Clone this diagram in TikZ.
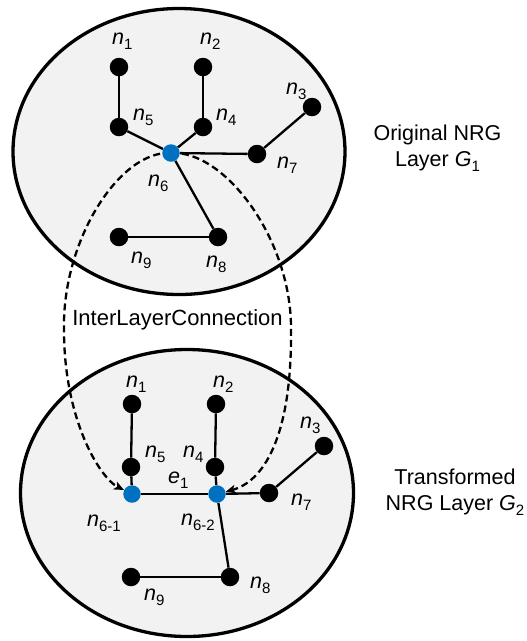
\documentclass[tikz,border=0pt]{standalone}
\usepackage{fontspec}
\setmainfont{Liberation Sans}
\usetikzlibrary{arrows.meta}
\pgfdeclarelayer{bg}\pgfdeclarelayer{mid}\pgfsetlayers{bg,mid,main}
\definecolor{myblue}{HTML}{0070C0}
\definecolor{layerfill}{HTML}{F2F2F2}
\newcommand\sbs[1]{\raisebox{-5.5pt}{\fontsize{15}{15}\selectfont #1}}
\newcommand\nn[1]{\textit{n}\sbs{#1}}
\begin{document}
\begin{tikzpicture}[x=1pt,y=-1pt,
  dot/.style={circle,fill=black,minimum size=18.5pt,inner sep=0pt},
  bdot/.style={circle,fill=myblue,minimum size=17.5pt,inner sep=0pt},
  lbl/.style={anchor=base west,inner sep=0pt,font=\fontsize{21.5}{24}\selectfont},
  edge/.style={line width=2.3pt},
  layerbox/.style={draw=black,line width=3.3pt,fill=layerfill},
  conn/.style={line width=2.3pt,dash pattern=on 7pt off 4pt,-{Stealth[length=10pt,width=8.5pt,inset=2.5pt]}},
  side/.style={align=center,inner sep=0pt,font=\fontsize{21.5}{26}\selectfont}
]
\useasboundingbox (0,0) rectangle (527,641);

% layer ellipses
\begin{pgfonlayer}{bg}
\path[layerbox] (179,151.5) ellipse [x radius=166pt, y radius=143pt];
\path[layerbox] (187,493) ellipse [x radius=166.5pt, y radius=143.5pt];
\end{pgfonlayer}

% top layer nodes
\node[dot] (a1) at (119,67) {};
\node[dot] (a2) at (203,67) {};
\node[dot] (a5) at (119,127) {};
\node[dot] (a4) at (203,127) {};
\node[bdot] (a6) at (171,153) {};
\node[dot] (a7) at (257,154) {};
\node[dot] (a3) at (312,107) {};
\node[dot] (a9) at (119,237) {};
\node[dot] (a8) at (218,237) {};

% bottom layer nodes
\node[dot] (b1) at (132,404) {};
\node[dot] (b2) at (216,404) {};
\node[dot] (b5) at (131,467) {};
\node[dot] (b4) at (215,467) {};
\node[bdot] (b61) at (132,494) {};
\node[bdot] (b62) at (217,494) {};
\node[dot] (b7) at (269,493) {};
\node[dot] (b3) at (324,446) {};
\node[dot] (b9) at (131,577) {};
\node[dot] (b8) at (230,577) {};

% labels top
\node[lbl] (la1) at (112,44) {\nn{1}};
\node[lbl] (la2) at (200,44) {\nn{2}};
\node[lbl] (la3) at (286,94) {\nn{3}};
\node[lbl] (la5) at (133,120) {\nn{5}};
\node[lbl] (la4) at (216,120) {\nn{4}};
\node[lbl] (la7) at (277,168) {\nn{7}};
\node[lbl] (la6) at (148,186) {\nn{6}};
\node[lbl] (la9) at (131,263) {\nn{9}};
\node[lbl] (la8) at (206,267) {\nn{8}};

% labels bottom
\node[lbl] (lb1) at (126,387) {\nn{1}};
\node[lbl] (lb2) at (213,387) {\nn{2}};
\node[lbl] (lb3) at (300,428) {\nn{3}};
\node[lbl] (lb5) at (145,457) {\nn{5}};
\node[lbl] (lb4) at (183,457) {\nn{4}};
\node[lbl] (le1) at (168,483) {\textit{e}\sbs{1}};
\node[lbl] (lb7) at (291,505) {\nn{7}};
\node[lbl] (lb61) at (87,526) {\nn{6-1}};
\node[lbl] (lb62) at (181,525) {\nn{6-2}};
\node[lbl] (lb8) at (250,588) {\nn{8}};
\node[lbl] (lb9) at (144,600) {\nn{9}};

% texts
\node[anchor=base,inner sep=0pt,font=\fontsize{22}{24}\selectfont] (ilc) at (177.5,325) {InterLayerConnection};
\node[side] (g1) at (437.5,148) {Original NRG\\Layer \textit{G}\sbs{1}};
\node[side] (g2) at (455,492) {Transformed\\NRG Layer \textit{G}\sbs{2}};

\begin{pgfonlayer}{mid}
% inter-layer connections
\draw[conn] (a6.center) .. controls (120,150) and (62,240) .. (64,330)
  .. controls (64,420) and (100,478) .. (b61);
\draw[conn] (a6.center) .. controls (225,150) and (292,240) .. (291,330)
  .. controls (292,440) and (262,482) .. (b62);
% top edges
\draw[edge] (a1) -- (a5);
\draw[edge] (a2) -- (a4);
\draw[edge] (a5) -- (a6);
\draw[edge] (a4) -- (a6);
\draw[edge] (a6) -- (a7);
\draw[edge] (a7) -- (a3);
\draw[edge] (a6) -- (a8);
\draw[edge] (a9) -- (a8);
% bottom edges
\draw[edge] (b1) -- (b5);
\draw[edge] (b2) -- (b4);
\draw[edge] (b5) -- (b61);
\draw[edge] (b4) -- (b62);
\draw[edge] (b61) -- (b62);
\draw[edge] (b62) -- (b7);
\draw[edge] (b7) -- (b3);
\draw[edge] (b62) -- (b8);
\draw[edge] (b9) -- (b8);
\end{pgfonlayer}
\end{tikzpicture}
\end{document}
